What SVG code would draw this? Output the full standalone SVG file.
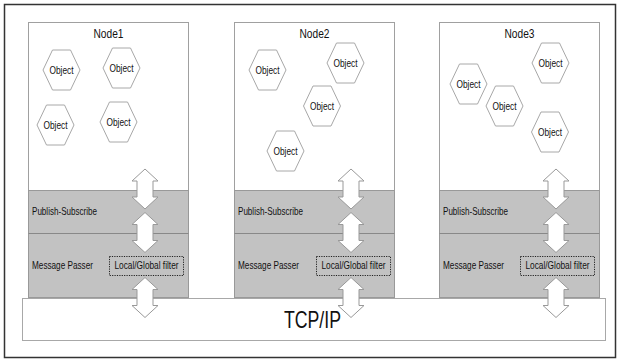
<svg xmlns="http://www.w3.org/2000/svg" xmlns:xlink="http://www.w3.org/1999/xlink" width="619" height="360" viewBox="0 0 619 360">
<style>
text{font-family:"Liberation Sans",Arial,sans-serif;fill:#111}
.box{fill:#fff;stroke:#a0a0a0;stroke-width:1}
.band{fill:#c2c2c2;stroke:#999;stroke-width:1}
.hex{fill:#fff;stroke:#a8a8a8;stroke-width:1}
.obj{font-size:10.5px;text-anchor:middle}
.title{font-size:13.5px;text-anchor:middle}
.lbl{font-size:10.5px}
.flt{fill:none;stroke:#222;stroke-width:1;stroke-dasharray:1.2 1.2}
.arr{fill:#fff;stroke:#999;stroke-width:1}
</style>
<defs>
<polygon id="hx" class="hex" points="-18.5,0 -9,-20 9,-20 18.5,0 9,20 -9,20"/>
<path id="ar40" class="arr" d="M0,0 L13,12 L8,12 L8,28 L13,28 L0,40 L-13,28 L-8,28 L-8,12 L-13,12 Z"/>
</defs>
<rect x="4.5" y="4.5" width="611" height="353" fill="#fff" stroke="#333" stroke-width="1.5"/>

<g id="node1">
<rect class="box" x="28.5" y="22.5" width="160" height="275"/>
<rect class="band" x="28.5" y="190.5" width="160" height="107"/>
<line x1="28.5" y1="233.5" x2="188.5" y2="233.5" stroke="#888"/>
<text class="title" x="108.5" y="38" textLength="30" lengthAdjust="spacingAndGlyphs">Node1</text>
<use xlink:href="#hx" x="61.5" y="70"/><text class="obj" x="61.5" y="73.5" textLength="24" lengthAdjust="spacingAndGlyphs">Object</text>
<use xlink:href="#hx" x="121.5" y="68"/><text class="obj" x="121.5" y="71.5" textLength="24" lengthAdjust="spacingAndGlyphs">Object</text>
<use xlink:href="#hx" x="55.5" y="125"/><text class="obj" x="55.5" y="128.5" textLength="24" lengthAdjust="spacingAndGlyphs">Object</text>
<use xlink:href="#hx" x="118.5" y="122"/><text class="obj" x="118.5" y="125.5" textLength="24" lengthAdjust="spacingAndGlyphs">Object</text>
<text class="lbl" x="32" y="214.5" textLength="65" lengthAdjust="spacingAndGlyphs">Publish-Subscribe</text>
<text class="lbl" x="32" y="268.5" textLength="61" lengthAdjust="spacingAndGlyphs">Message Passer</text>
<rect class="flt" x="109.5" y="256.5" width="74" height="19"/>
<text class="lbl" x="146.5" y="269" text-anchor="middle" textLength="64" lengthAdjust="spacingAndGlyphs">Local/Global filter</text>
</g>

<g id="node2">
<rect class="box" x="234.5" y="22.5" width="160" height="275"/>
<rect class="band" x="234.5" y="190.5" width="160" height="107"/>
<line x1="234.5" y1="233.5" x2="394.5" y2="233.5" stroke="#888"/>
<text class="title" x="314.5" y="38" textLength="30" lengthAdjust="spacingAndGlyphs">Node2</text>
<use xlink:href="#hx" x="267.5" y="70"/><text class="obj" x="267.5" y="73.5" textLength="24" lengthAdjust="spacingAndGlyphs">Object</text>
<use xlink:href="#hx" x="345.5" y="63"/><text class="obj" x="345.5" y="66.5" textLength="24" lengthAdjust="spacingAndGlyphs">Object</text>
<use xlink:href="#hx" x="322" y="106"/><text class="obj" x="322" y="109.5" textLength="24" lengthAdjust="spacingAndGlyphs">Object</text>
<use xlink:href="#hx" x="285.5" y="151"/><text class="obj" x="285.5" y="154.5" textLength="24" lengthAdjust="spacingAndGlyphs">Object</text>
<text class="lbl" x="238" y="214.5" textLength="65" lengthAdjust="spacingAndGlyphs">Publish-Subscribe</text>
<text class="lbl" x="238" y="268.5" textLength="61" lengthAdjust="spacingAndGlyphs">Message Passer</text>
<rect class="flt" x="316.5" y="256.5" width="74" height="19"/>
<text class="lbl" x="353.5" y="269" text-anchor="middle" textLength="64" lengthAdjust="spacingAndGlyphs">Local/Global filter</text>
</g>

<g id="node3">
<rect class="box" x="439.5" y="22.5" width="160" height="275"/>
<rect class="band" x="439.5" y="190.5" width="160" height="107"/>
<line x1="439.5" y1="233.5" x2="599.5" y2="233.5" stroke="#888"/>
<text class="title" x="519.5" y="38" textLength="30" lengthAdjust="spacingAndGlyphs">Node3</text>
<use xlink:href="#hx" x="468.5" y="84"/><text class="obj" x="468.5" y="87.5" textLength="24" lengthAdjust="spacingAndGlyphs">Object</text>
<use xlink:href="#hx" x="550.5" y="63"/><text class="obj" x="550.5" y="66.5" textLength="24" lengthAdjust="spacingAndGlyphs">Object</text>
<use xlink:href="#hx" x="504.5" y="106"/><text class="obj" x="504.5" y="109.5" textLength="24" lengthAdjust="spacingAndGlyphs">Object</text>
<use xlink:href="#hx" x="550" y="132"/><text class="obj" x="550" y="135.5" textLength="24" lengthAdjust="spacingAndGlyphs">Object</text>
<text class="lbl" x="443" y="214.5" textLength="65" lengthAdjust="spacingAndGlyphs">Publish-Subscribe</text>
<text class="lbl" x="443" y="268.5" textLength="61" lengthAdjust="spacingAndGlyphs">Message Passer</text>
<rect class="flt" x="520.5" y="256.5" width="74" height="19"/>
<text class="lbl" x="557.5" y="269" text-anchor="middle" textLength="64" lengthAdjust="spacingAndGlyphs">Local/Global filter</text>
</g>

<g id="tcpip">
<rect x="22.5" y="298.5" width="583" height="42" fill="#fff" stroke="#a8a8a8"/>
<text x="312.5" y="327.5" font-size="24" text-anchor="middle" textLength="57" lengthAdjust="spacingAndGlyphs">TCP/IP</text>
</g>

<g id="connectors">
<use xlink:href="#ar40" x="145" y="169"/>
<use xlink:href="#ar40" x="145" y="212.5"/>
<use xlink:href="#ar40" x="145" y="277.5"/>
<use xlink:href="#ar40" x="351" y="169"/>
<use xlink:href="#ar40" x="351" y="212.5"/>
<use xlink:href="#ar40" x="351" y="277.5"/>
<use xlink:href="#ar40" x="556" y="169"/>
<use xlink:href="#ar40" x="556" y="212.5"/>
<use xlink:href="#ar40" x="556" y="277.5"/>
</g>
</svg>
